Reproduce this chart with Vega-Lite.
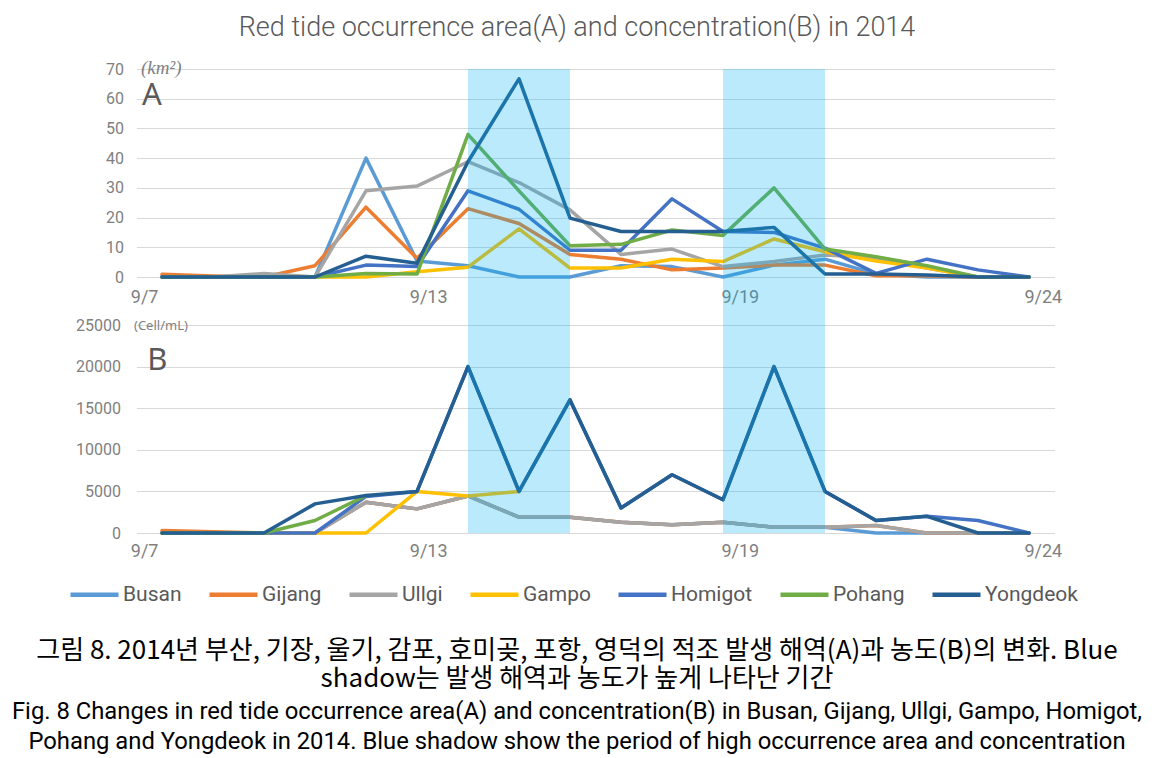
{
  "$schema": "https://vega.github.io/schema/vega-lite/v6.json",
  "autosize": {"type": "none"},
  "padding": {"left": 136.5, "top": 69, "right": 1021.5, "bottom": 689},
  "background": "white",
  "config": {"view": {"stroke": null}},
  "datasets": {
    "area": [
      {"site":"Busan","day":7,"v":0},{"site":"Busan","day":8,"v":0},{"site":"Busan","day":9,"v":0},{"site":"Busan","day":10,"v":0},{"site":"Busan","day":11,"v":40},{"site":"Busan","day":12,"v":5.4},{"site":"Busan","day":13,"v":3.8},{"site":"Busan","day":14,"v":0},{"site":"Busan","day":15,"v":0},{"site":"Busan","day":16,"v":3.8},{"site":"Busan","day":17,"v":3.5},{"site":"Busan","day":18,"v":0},{"site":"Busan","day":19,"v":4},{"site":"Busan","day":20,"v":6},{"site":"Busan","day":21,"v":1},{"site":"Busan","day":22,"v":0},{"site":"Busan","day":23,"v":0},{"site":"Busan","day":24,"v":0},
      {"site":"Gijang","day":7,"v":0.9},{"site":"Gijang","day":8,"v":0.3},{"site":"Gijang","day":9,"v":0},{"site":"Gijang","day":10,"v":3.8},{"site":"Gijang","day":11,"v":23.5},{"site":"Gijang","day":12,"v":6.3},{"site":"Gijang","day":13,"v":23},{"site":"Gijang","day":14,"v":18},{"site":"Gijang","day":15,"v":7.6},{"site":"Gijang","day":16,"v":6},{"site":"Gijang","day":17,"v":2.4},{"site":"Gijang","day":18,"v":3},{"site":"Gijang","day":19,"v":4},{"site":"Gijang","day":20,"v":4},{"site":"Gijang","day":21,"v":0.4},{"site":"Gijang","day":22,"v":0.4},{"site":"Gijang","day":23,"v":0},{"site":"Gijang","day":24,"v":0},
      {"site":"Ullgi","day":7,"v":0},{"site":"Ullgi","day":8,"v":0},{"site":"Ullgi","day":9,"v":1.2},{"site":"Ullgi","day":10,"v":0},{"site":"Ullgi","day":11,"v":29},{"site":"Ullgi","day":12,"v":30.6},{"site":"Ullgi","day":13,"v":38.8},{"site":"Ullgi","day":14,"v":31.8},{"site":"Ullgi","day":15,"v":22.6},{"site":"Ullgi","day":16,"v":7.6},{"site":"Ullgi","day":17,"v":9.4},{"site":"Ullgi","day":18,"v":3.5},{"site":"Ullgi","day":19,"v":5.2},{"site":"Ullgi","day":20,"v":7.4},{"site":"Ullgi","day":21,"v":6.5},{"site":"Ullgi","day":22,"v":3},{"site":"Ullgi","day":23,"v":0},{"site":"Ullgi","day":24,"v":0},
      {"site":"Gampo","day":7,"v":0},{"site":"Gampo","day":8,"v":0},{"site":"Gampo","day":9,"v":0},{"site":"Gampo","day":10,"v":0},{"site":"Gampo","day":11,"v":0},{"site":"Gampo","day":12,"v":1.8},{"site":"Gampo","day":13,"v":3.3},{"site":"Gampo","day":14,"v":16.2},{"site":"Gampo","day":15,"v":3},{"site":"Gampo","day":16,"v":3},{"site":"Gampo","day":17,"v":6},{"site":"Gampo","day":18,"v":5.2},{"site":"Gampo","day":19,"v":12.8},{"site":"Gampo","day":20,"v":8.5},{"site":"Gampo","day":21,"v":5.4},{"site":"Gampo","day":22,"v":3},{"site":"Gampo","day":23,"v":0},{"site":"Gampo","day":24,"v":0},
      {"site":"Homigot","day":7,"v":0},{"site":"Homigot","day":8,"v":0},{"site":"Homigot","day":9,"v":0},{"site":"Homigot","day":10,"v":0},{"site":"Homigot","day":11,"v":4},{"site":"Homigot","day":12,"v":3.5},{"site":"Homigot","day":13,"v":29},{"site":"Homigot","day":14,"v":22.8},{"site":"Homigot","day":15,"v":9},{"site":"Homigot","day":16,"v":9},{"site":"Homigot","day":17,"v":26.3},{"site":"Homigot","day":18,"v":15.3},{"site":"Homigot","day":19,"v":15},{"site":"Homigot","day":20,"v":9.7},{"site":"Homigot","day":21,"v":1.2},{"site":"Homigot","day":22,"v":6},{"site":"Homigot","day":23,"v":2.4},{"site":"Homigot","day":24,"v":0},
      {"site":"Pohang","day":7,"v":0},{"site":"Pohang","day":8,"v":0},{"site":"Pohang","day":9,"v":0},{"site":"Pohang","day":10,"v":0},{"site":"Pohang","day":11,"v":1.2},{"site":"Pohang","day":12,"v":1},{"site":"Pohang","day":13,"v":48},{"site":"Pohang","day":14,"v":29},{"site":"Pohang","day":15,"v":10.5},{"site":"Pohang","day":16,"v":11},{"site":"Pohang","day":17,"v":15.8},{"site":"Pohang","day":18,"v":14},{"site":"Pohang","day":19,"v":30},{"site":"Pohang","day":20,"v":9.4},{"site":"Pohang","day":21,"v":6.8},{"site":"Pohang","day":22,"v":3.8},{"site":"Pohang","day":23,"v":0},{"site":"Pohang","day":24,"v":0},
      {"site":"Yongdeok","day":7,"v":0},{"site":"Yongdeok","day":8,"v":0},{"site":"Yongdeok","day":9,"v":0},{"site":"Yongdeok","day":10,"v":0},{"site":"Yongdeok","day":11,"v":7},{"site":"Yongdeok","day":12,"v":4.6},{"site":"Yongdeok","day":13,"v":38.8},{"site":"Yongdeok","day":14,"v":66.7},{"site":"Yongdeok","day":15,"v":19.8},{"site":"Yongdeok","day":16,"v":15.3},{"site":"Yongdeok","day":17,"v":15.3},{"site":"Yongdeok","day":18,"v":15.3},{"site":"Yongdeok","day":19,"v":16.7},{"site":"Yongdeok","day":20,"v":1},{"site":"Yongdeok","day":21,"v":1},{"site":"Yongdeok","day":22,"v":0.7},{"site":"Yongdeok","day":23,"v":0},{"site":"Yongdeok","day":24,"v":0}
    ],
    "conc": [
      {"site":"Busan","day":7,"v":0},{"site":"Busan","day":8,"v":0},{"site":"Busan","day":9,"v":0},{"site":"Busan","day":10,"v":0},{"site":"Busan","day":11,"v":3700},{"site":"Busan","day":12,"v":2900},{"site":"Busan","day":13,"v":4450},{"site":"Busan","day":14,"v":1900},{"site":"Busan","day":15,"v":1900},{"site":"Busan","day":16,"v":1300},{"site":"Busan","day":17,"v":1000},{"site":"Busan","day":18,"v":1300},{"site":"Busan","day":19,"v":700},{"site":"Busan","day":20,"v":700},{"site":"Busan","day":21,"v":0},{"site":"Busan","day":22,"v":0},{"site":"Busan","day":23,"v":0},{"site":"Busan","day":24,"v":0},
      {"site":"Gijang","day":7,"v":300},{"site":"Gijang","day":8,"v":150},{"site":"Gijang","day":9,"v":0},{"site":"Gijang","day":10,"v":0},{"site":"Gijang","day":11,"v":3700},{"site":"Gijang","day":12,"v":2900},{"site":"Gijang","day":13,"v":4450},{"site":"Gijang","day":14,"v":1900},{"site":"Gijang","day":15,"v":1900},{"site":"Gijang","day":16,"v":1300},{"site":"Gijang","day":17,"v":1000},{"site":"Gijang","day":18,"v":1300},{"site":"Gijang","day":19,"v":700},{"site":"Gijang","day":20,"v":700},{"site":"Gijang","day":21,"v":900},{"site":"Gijang","day":22,"v":0},{"site":"Gijang","day":23,"v":0},{"site":"Gijang","day":24,"v":0},
      {"site":"Ullgi","day":7,"v":0},{"site":"Ullgi","day":8,"v":0},{"site":"Ullgi","day":9,"v":0},{"site":"Ullgi","day":10,"v":0},{"site":"Ullgi","day":11,"v":3700},{"site":"Ullgi","day":12,"v":2900},{"site":"Ullgi","day":13,"v":4450},{"site":"Ullgi","day":14,"v":1900},{"site":"Ullgi","day":15,"v":1900},{"site":"Ullgi","day":16,"v":1300},{"site":"Ullgi","day":17,"v":1000},{"site":"Ullgi","day":18,"v":1300},{"site":"Ullgi","day":19,"v":700},{"site":"Ullgi","day":20,"v":700},{"site":"Ullgi","day":21,"v":900},{"site":"Ullgi","day":22,"v":0},{"site":"Ullgi","day":23,"v":0},{"site":"Ullgi","day":24,"v":0},
      {"site":"Gampo","day":7,"v":0},{"site":"Gampo","day":8,"v":0},{"site":"Gampo","day":9,"v":0},{"site":"Gampo","day":10,"v":0},{"site":"Gampo","day":11,"v":0},{"site":"Gampo","day":12,"v":5000},{"site":"Gampo","day":13,"v":4450},{"site":"Gampo","day":14,"v":5000},
      {"site":"Homigot","day":7,"v":0},{"site":"Homigot","day":8,"v":0},{"site":"Homigot","day":9,"v":0},{"site":"Homigot","day":10,"v":0},{"site":"Homigot","day":11,"v":4400},{"site":"Homigot","day":12,"v":5000},{"site":"Homigot","day":13,"v":20000},{"site":"Homigot","day":14,"v":5000},{"site":"Homigot","day":15,"v":16000},{"site":"Homigot","day":16,"v":3000},{"site":"Homigot","day":17,"v":7000},{"site":"Homigot","day":18,"v":4000},{"site":"Homigot","day":19,"v":20000},{"site":"Homigot","day":20,"v":5000},{"site":"Homigot","day":21,"v":1500},{"site":"Homigot","day":22,"v":2000},{"site":"Homigot","day":23,"v":1500},{"site":"Homigot","day":24,"v":0},
      {"site":"Pohang","day":7,"v":0},{"site":"Pohang","day":8,"v":0},{"site":"Pohang","day":9,"v":0},{"site":"Pohang","day":10,"v":1500},{"site":"Pohang","day":11,"v":4500},
      {"site":"Yongdeok","day":7,"v":0},{"site":"Yongdeok","day":8,"v":0},{"site":"Yongdeok","day":9,"v":0},{"site":"Yongdeok","day":10,"v":3500},{"site":"Yongdeok","day":11,"v":4500},{"site":"Yongdeok","day":12,"v":5000},{"site":"Yongdeok","day":13,"v":20000},{"site":"Yongdeok","day":14,"v":5000},{"site":"Yongdeok","day":15,"v":16000},{"site":"Yongdeok","day":16,"v":3000},{"site":"Yongdeok","day":17,"v":7000},{"site":"Yongdeok","day":18,"v":4000},{"site":"Yongdeok","day":19,"v":20000},{"site":"Yongdeok","day":20,"v":5000},{"site":"Yongdeok","day":21,"v":1500},{"site":"Yongdeok","day":22,"v":2000},{"site":"Yongdeok","day":23,"v":0},{"site":"Yongdeok","day":24,"v":0}
    ],
    "bands": [{"start": 13, "end": 15}, {"start": 18, "end": 20}]
  },
  "vconcat": [
    {
      "width": 918,
      "height": 208,
      "title": {"text": "Red tide occurrence area(A) and concentration(B) in 2014", "frame": "group", "anchor": "middle", "dx": -18.5, "offset": 16, "font": "Roboto", "fontSize": 27, "fontWeight": 300, "color": "#595959"},
      "layer": [
        {
          "data": {"name": "area"},
          "mark": {"type": "line", "strokeWidth": 3.5, "strokeJoin": "round", "strokeCap": "round"},
          "encoding": {
            "x": {"field": "day", "type": "quantitative", "scale": {"domain": [6.5, 24.5], "nice": false, "zero": false},
              "axis": {"values": [6.65, 12.22, 18.33, 24.27], "labelExpr": "datum.value < 9 ? '9/7' : datum.value < 15 ? '9/13' : datum.value < 21 ? '9/19' : '9/24'", "title": null, "grid": false, "ticks": false, "tickSize": 0, "domain": false, "labelPadding": 11, "labelFontSize": 18, "labelColor": "#7F7F7F", "labelFont": "Roboto", "labelFlush": false, "labelOverlap": false}},
            "y": {"field": "v", "type": "quantitative", "scale": {"domain": [0, 70], "nice": false},
              "axis": {"values": [0, 10, 20, 30, 40, 50, 60, 70], "labelOverlap": false, "labelFlush": false, "title": "(km²)", "titleAngle": 0, "titleAlign": "left", "titleBaseline": "middle", "titleX": 4, "titleY": -2, "titleFont": "Liberation Serif", "titleFontStyle": "italic", "titleFontSize": 19, "titleFontWeight": "normal", "titleColor": "#7F7F7F", "grid": true, "gridColor": "#D9D9D9", "gridWidth": 1.2, "ticks": false, "tickSize": 0, "domain": false, "labelPadding": 13, "labelFontSize": 16, "labelColor": "#7F7F7F", "labelFont": "Roboto"}},
            "color": {"field": "site", "type": "nominal", "scale": {"domain": ["Busan", "Gijang", "Ullgi", "Gampo", "Homigot", "Pohang", "Yongdeok"], "range": ["#5B9BD5", "#ED7D31", "#A5A5A5", "#FFC000", "#4472C4", "#70AD47", "#255E91"]}, "legend": null}
          }
        },
        {
          "data": {"name": "bands"},
          "mark": {"type": "rect", "color": "#00B0F0", "opacity": 0.27},
          "encoding": {
            "x": {"field": "start", "type": "quantitative", "scale": {"domain": [6.5, 24.5], "nice": false, "zero": false},
              "axis": {"values": [6.65, 12.22, 18.33, 24.27], "labelExpr": "datum.value < 9 ? '9/7' : datum.value < 15 ? '9/13' : datum.value < 21 ? '9/19' : '9/24'", "title": null, "grid": false, "ticks": false, "tickSize": 0, "domain": false, "labelPadding": 11, "labelFontSize": 18, "labelColor": "#7F7F7F", "labelFont": "Roboto", "labelFlush": false, "labelOverlap": false}},
            "x2": {"field": "end"},
            "y": {"datum": 70, "type": "quantitative", "scale": {"domain": [0, 70], "nice": false},
              "axis": {"values": [0, 10, 20, 30, 40, 50, 60, 70], "labelOverlap": false, "labelFlush": false, "title": "(km²)", "titleAngle": 0, "titleAlign": "left", "titleBaseline": "middle", "titleX": 4, "titleY": -2, "titleFont": "Liberation Serif", "titleFontStyle": "italic", "titleFontSize": 19, "titleFontWeight": "normal", "titleColor": "#7F7F7F", "grid": true, "gridColor": "#D9D9D9", "gridWidth": 1.2, "ticks": false, "tickSize": 0, "domain": false, "labelPadding": 13, "labelFontSize": 16, "labelColor": "#7F7F7F", "labelFont": "Roboto"}},
            "y2": {"datum": -16.15}
          }
        },
        {
          "data": {"values": [{"label": "A"}]},
          "mark": {"type": "text", "align": "left", "baseline": "middle", "fontSize": 31, "color": "#595959", "font": "Noto Sans"},
          "encoding": {
            "text": {"field": "label"},
            "x": {"datum": 6.61, "type": "quantitative", "scale": {"domain": [6.5, 24.5], "nice": false, "zero": false},
              "axis": {"values": [6.65, 12.22, 18.33, 24.27], "labelExpr": "datum.value < 9 ? '9/7' : datum.value < 15 ? '9/13' : datum.value < 21 ? '9/19' : '9/24'", "title": null, "grid": false, "ticks": false, "tickSize": 0, "domain": false, "labelPadding": 11, "labelFontSize": 18, "labelColor": "#7F7F7F", "labelFont": "Roboto", "labelFlush": false, "labelOverlap": false}},
            "y": {"datum": 61, "type": "quantitative", "scale": {"domain": [0, 70], "nice": false},
              "axis": {"values": [0, 10, 20, 30, 40, 50, 60, 70], "labelOverlap": false, "labelFlush": false, "title": "(km²)", "titleAngle": 0, "titleAlign": "left", "titleBaseline": "middle", "titleX": 4, "titleY": -2, "titleFont": "Liberation Serif", "titleFontStyle": "italic", "titleFontSize": 19, "titleFontWeight": "normal", "titleColor": "#7F7F7F", "grid": true, "gridColor": "#D9D9D9", "gridWidth": 1.2, "ticks": false, "tickSize": 0, "domain": false, "labelPadding": 13, "labelFontSize": 16, "labelColor": "#7F7F7F", "labelFont": "Roboto"}}
          }
        }
      ]
    },
    {
      "width": 918,
      "height": 208,
      "title": {
        "text": ["그림 8. 2014년 부산, 기장, 울기, 감포, 호미곶, 포항, 영덕의 적조 발생 해역(A)과 농도(B)의 변화. Blue", "shadow는 발생 해역과 농도가 높게 나타난 기간"],
        "subtitle": ["Fig. 8 Changes in red tide occurrence area(A) and concentration(B) in Busan, Gijang, Ullgi, Gampo, Homigot,", "Pohang and Yongdeok in 2014. Blue shadow show the period of high occurrence area and concentration"],
        "orient": "bottom", "frame": "group", "anchor": "middle", "dx": -18.5, "offset": 33,
        "font": "Noto Sans CJK KR", "fontSize": 26, "fontWeight": "normal", "color": "#000000", "lineHeight": 28,
        "subtitleFont": "Roboto", "subtitleFontSize": 23.8, "subtitleFontWeight": "normal", "subtitleColor": "#000000", "subtitleLineHeight": 30, "subtitlePadding": 8
      },
      "layer": [
        {
          "data": {"name": "conc"},
          "mark": {"type": "line", "strokeWidth": 3.5, "strokeJoin": "round", "strokeCap": "round"},
          "encoding": {
            "x": {"field": "day", "type": "quantitative", "scale": {"domain": [6.5, 24.5], "nice": false, "zero": false},
              "axis": {"values": [6.65, 12.22, 18.33, 24.27], "labelExpr": "datum.value < 9 ? '9/7' : datum.value < 15 ? '9/13' : datum.value < 21 ? '9/19' : '9/24'", "title": null, "grid": false, "ticks": false, "tickSize": 0, "domain": false, "labelPadding": 9, "labelFontSize": 18, "labelColor": "#7F7F7F", "labelFont": "Roboto", "labelFlush": false, "labelOverlap": false}},
            "y": {"field": "v", "type": "quantitative", "scale": {"domain": [0, 25000], "nice": false},
              "axis": {"values": [0, 5000, 10000, 15000, 20000, 25000], "labelOverlap": false, "labelFlush": false, "format": "d", "title": "(Cell/mL)", "titleAngle": 0, "titleAlign": "left", "titleBaseline": "middle", "titleX": -3, "titleY": 0, "titleFont": "Noto Sans", "titleFontSize": 13, "titleFontWeight": "normal", "titleColor": "#7F7F7F", "grid": true, "gridColor": "#D9D9D9", "gridWidth": 1.2, "ticks": false, "tickSize": 0, "domain": false, "labelPadding": 16, "labelFontSize": 16, "labelColor": "#7F7F7F", "labelFont": "Roboto"}},
            "color": {"field": "site", "type": "nominal", "scale": {"domain": ["Busan", "Gijang", "Ullgi", "Gampo", "Homigot", "Pohang", "Yongdeok"], "range": ["#5B9BD5", "#ED7D31", "#A5A5A5", "#FFC000", "#4472C4", "#70AD47", "#255E91"]},
              "legend": {"orient": "none", "legendX": -68.5, "legendY": 243, "direction": "horizontal", "title": null, "symbolType": "stroke", "symbolSize": 2304, "symbolStrokeWidth": 4.5, "labelFont": "Roboto", "labelFontSize": 21, "labelColor": "#595959", "columnPadding": 18, "labelOffset": 2, "padding": 0, "labelLimit": 300}}
          }
        },
        {
          "data": {"name": "bands"},
          "mark": {"type": "rect", "color": "#00B0F0", "opacity": 0.27},
          "encoding": {
            "x": {"field": "start", "type": "quantitative", "scale": {"domain": [6.5, 24.5], "nice": false, "zero": false},
              "axis": {"values": [6.65, 12.22, 18.33, 24.27], "labelExpr": "datum.value < 9 ? '9/7' : datum.value < 15 ? '9/13' : datum.value < 21 ? '9/19' : '9/24'", "title": null, "grid": false, "ticks": false, "tickSize": 0, "domain": false, "labelPadding": 9, "labelFontSize": 18, "labelColor": "#7F7F7F", "labelFont": "Roboto", "labelFlush": false, "labelOverlap": false}},
            "x2": {"field": "end"},
            "y": {"datum": 25000, "type": "quantitative", "scale": {"domain": [0, 25000], "nice": false},
              "axis": {"values": [0, 5000, 10000, 15000, 20000, 25000], "labelOverlap": false, "labelFlush": false, "format": "d", "title": "(Cell/mL)", "titleAngle": 0, "titleAlign": "left", "titleBaseline": "middle", "titleX": -3, "titleY": 0, "titleFont": "Noto Sans", "titleFontSize": 13, "titleFontWeight": "normal", "titleColor": "#7F7F7F", "grid": true, "gridColor": "#D9D9D9", "gridWidth": 1.2, "ticks": false, "tickSize": 0, "domain": false, "labelPadding": 16, "labelFontSize": 16, "labelColor": "#7F7F7F", "labelFont": "Roboto"}},
            "y2": {"datum": 0}
          }
        },
        {
          "data": {"values": [{"label": "B"}]},
          "mark": {"type": "text", "align": "left", "baseline": "middle", "fontSize": 31, "color": "#595959", "font": "Noto Sans"},
          "encoding": {
            "text": {"field": "label"},
            "x": {"datum": 6.71, "type": "quantitative", "scale": {"domain": [6.5, 24.5], "nice": false, "zero": false},
              "axis": {"values": [6.65, 12.22, 18.33, 24.27], "labelExpr": "datum.value < 9 ? '9/7' : datum.value < 15 ? '9/13' : datum.value < 21 ? '9/19' : '9/24'", "title": null, "grid": false, "ticks": false, "tickSize": 0, "domain": false, "labelPadding": 9, "labelFontSize": 18, "labelColor": "#7F7F7F", "labelFont": "Roboto", "labelFlush": false, "labelOverlap": false}},
            "y": {"datum": 20700, "type": "quantitative", "scale": {"domain": [0, 25000], "nice": false},
              "axis": {"values": [0, 5000, 10000, 15000, 20000, 25000], "labelOverlap": false, "labelFlush": false, "format": "d", "title": "(Cell/mL)", "titleAngle": 0, "titleAlign": "left", "titleBaseline": "middle", "titleX": -3, "titleY": 0, "titleFont": "Noto Sans", "titleFontSize": 13, "titleFontWeight": "normal", "titleColor": "#7F7F7F", "grid": true, "gridColor": "#D9D9D9", "gridWidth": 1.2, "ticks": false, "tickSize": 0, "domain": false, "labelPadding": 16, "labelFontSize": 16, "labelColor": "#7F7F7F", "labelFont": "Roboto"}}
          }
        }
      ]
    }
  ],
  "spacing": 48,
  "bounds": "flush",
  "resolve": {"legend": {"color": "independent"}}
}
